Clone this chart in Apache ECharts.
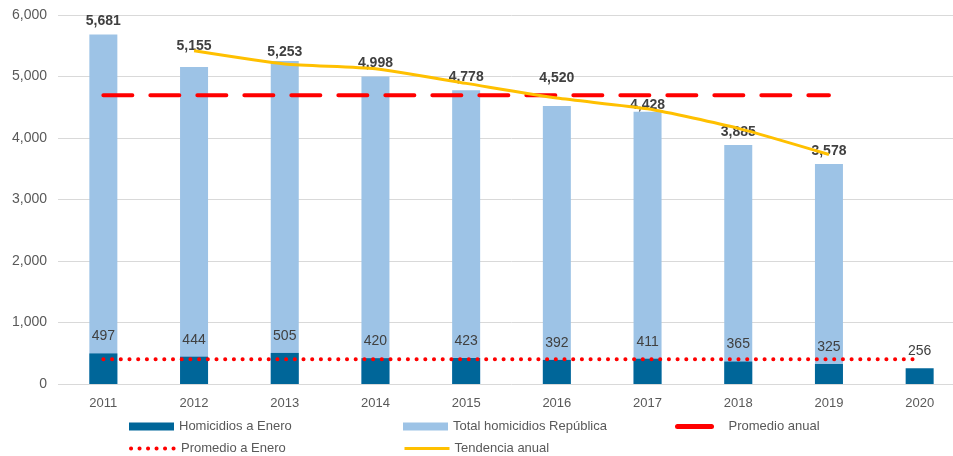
<!DOCTYPE html>
<html>
<head>
<meta charset="utf-8">
<script src="https://cdn.jsdelivr.net/npm/echarts@6/dist/echarts.min.js"></script>
<style>
  html, body { margin: 0; padding: 0; background: #fff; overflow: hidden; }
  /* el área de trazado del original sigue más allá del borde derecho */
  #chart { width: 966px; height: 456px; }
</style>
</head>
<body>
<div id="chart"></div>
<script>
const years = ['2011', '2012', '2013', '2014', '2015', '2016', '2017', '2018', '2019', '2020'];
const totalRepublica = [5681, 5155, 5253, 4998, 4778, 4520, 4428, 3885, 3578, null];
const homicidiosEnero = [497, 444, 505, 420, 423, 392, 411, 365, 325, 256];
const promedioAnual = [4697, 4697, 4697, 4697, 4697, 4697, 4697, 4697, 4697, null];
const promedioEnero = [404, 404, 404, 404, 404, 404, 404, 404, 404, 404];
const tendenciaAnual = [null, 5418, 5204, 5126, 4888, 4649, 4474, 4157, 3732, null];

const FONT = '"Liberation Sans", Arial, sans-serif';
const fmt = v => Number(v).toLocaleString('en-US');

// etiquetas movidas a mano en el original (px, por índice)
const totalLabelDy = { 1: -8, 2: 4, 5: -15, 6: 6 };

const chart = echarts.init(document.getElementById('chart'));

// una leyenda por elemento, para alinear las columnas como en el original
function legendItem(name, left, top, extra) {
  return Object.assign({
    data: [name],
    left: left,
    top: top,
    padding: 0,
    itemWidth: 45,
    itemHeight: 8,
    textStyle: { fontFamily: FONT, fontSize: 13, color: '#595959' }
  }, extra || {});
}

const option = {
  animation: false,
  textStyle: { fontFamily: FONT },
  grid: { left: 58, top: 15, right: 1, bottom: 72, containLabel: false },
  legend: [
    legendItem('Homicidios a Enero', 129, 420, { icon: 'rect' }),
    legendItem('Total homicidios República', 403, 420, { icon: 'rect' }),
    legendItem('Promedio anual', 675, 420, {
      itemWidth: 34,
      itemStyle: { opacity: 0 },
      lineStyle: { type: 'solid', width: 5 },
      textStyle: { fontFamily: FONT, fontSize: 13, color: '#595959', padding: [0, 0, 0, 12] }
    }),
    legendItem('Promedio a Enero', 129, 442, {
      itemStyle: { opacity: 0 },
      lineStyle: { width: 4, type: [0.1, 8.4], cap: 'round' }
    }),
    legendItem('Tendencia anual', 403, 442, {
      itemStyle: { opacity: 0 },
      lineStyle: { width: 3 }
    })
  ],
  xAxis: {
    type: 'category',
    data: years,
    axisLine: { show: false },
    axisTick: { show: false },
    axisLabel: { color: '#595959', fontSize: 13, margin: 13, fontFamily: FONT }
  },
  yAxis: {
    type: 'value',
    min: 0,
    max: 6000,
    interval: 1000,
    axisLabel: { color: '#595959', fontSize: 14, margin: 11, fontFamily: FONT, formatter: fmt },
    splitLine: { lineStyle: { color: '#d9d9d9', width: 1 } }
  },
  series: [
    {
      name: 'Total homicidios República',
      type: 'bar',
      data: totalRepublica,
      barWidth: 28,
      itemStyle: { color: '#9DC3E6' },
      label: {
        show: true,
        position: 'top',
        distance: 6,
        color: '#404040',
        fontSize: 14,
        fontWeight: 'bold',
        fontFamily: FONT,
        formatter: p => fmt(p.value)
      },
      labelLayout: p => ({ dy: totalLabelDy[p.dataIndex] || 0 }),
      z: 1
    },
    {
      name: 'Homicidios a Enero',
      type: 'bar',
      data: homicidiosEnero,
      barWidth: 28,
      barGap: '-100%',
      itemStyle: { color: '#006699' },
      label: {
        show: true,
        position: 'top',
        distance: 10,
        color: '#404040',
        fontSize: 14,
        fontFamily: FONT,
        formatter: p => fmt(p.value)
      },
      z: 2
    },
    {
      name: 'Promedio anual',
      type: 'line',
      data: promedioAnual,
      symbol: 'none',
      lineStyle: { color: '#FF0000', width: 4, type: [29, 18], cap: 'round' },
      itemStyle: { color: '#FF0000' },
      z: 3
    },
    {
      name: 'Promedio a Enero',
      type: 'line',
      data: promedioEnero,
      symbol: 'none',
      lineStyle: { color: '#FF0000', width: 4, type: [0.1, 8.6], cap: 'round' },
      itemStyle: { color: '#FF0000' },
      z: 3
    },
    {
      name: 'Tendencia anual',
      type: 'line',
      data: tendenciaAnual,
      symbol: 'none',
      smooth: 0.2,
      lineStyle: { color: '#FFC000', width: 3 },
      itemStyle: { color: '#FFC000' },
      z: 4
    }
  ]
};

chart.setOption(option);
</script>
</body>
</html>
